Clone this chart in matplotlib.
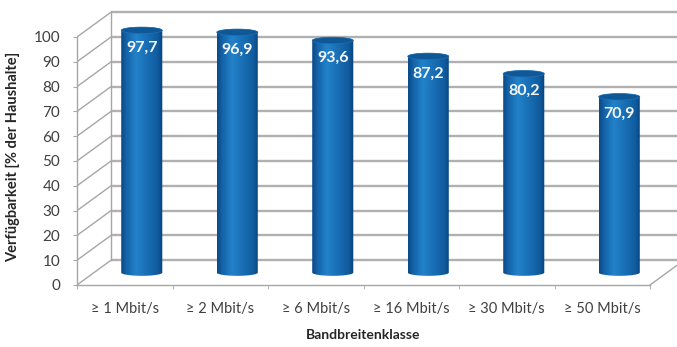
import numpy as np
import matplotlib
matplotlib.use('Agg')
import matplotlib.pyplot as plt
from matplotlib.path import Path
from matplotlib.patches import PathPatch, Ellipse
from matplotlib.colors import LinearSegmentedColormap

plt.rcParams['font.family'] = ['Lato', 'DejaVu Sans']

categories = ['≥ 1 Mbit/s', '≥ 2 Mbit/s', '≥ 6 Mbit/s', '≥ 16 Mbit/s', '≥ 30 Mbit/s', '≥ 50 Mbit/s']
values = [97.7, 96.9, 93.6, 87.2, 80.2, 70.9]
yticks = list(range(0, 101, 10))

# pseudo 3D depth offset (data units)
dx = 0.356   # categories
dy = 10.0    # percent
bw = 0.43    # bar width
eh = 2.6     # ellipse height

W, H = 677, 347
fig = plt.figure(figsize=(W / 100, H / 100), dpi=100)
x0, x1 = 77, 650     # front floor edge px
y0, y100 = 285, 37   # front axis 0 / 100 px
pxx = (x1 - x0) / 6.0
pxy = (y0 - y100) / 100.0
xmax = 5.5 + dx + 0.1
ymax = 100 + dy + 2
ax = fig.add_axes([x0 / W, (H - y0) / H,
                   (xmax + 0.5) * pxx / W, ymax * pxy / H])
ax.set_xlim(-0.5, xmax)
ax.set_ylim(0, ymax)

gc = '#b0b0b0'
lc = '#a6a6a6'
# back wall grid + side wall diagonals
for v in yticks:
    ax.plot([-0.5 + dx, xmax], [v + dy, v + dy], color=gc, lw=1.7, zorder=1, solid_capstyle='butt')
    ax.plot([-0.5, -0.5 + dx], [v, v + dy], color=lc, lw=1.0, zorder=1)
ax.plot([-0.5 + dx, -0.5 + dx], [dy, 100 + dy], color=lc, lw=1.0, zorder=1)
ax.plot([5.5, 5.5 + dx], [0, dy], color=lc, lw=1.0, zorder=1)

for s in ['top', 'right']:
    ax.spines[s].set_visible(False)
ax.spines['left'].set_bounds(0, 100)
ax.spines['bottom'].set_bounds(-0.5, 5.5)
for s in ['left', 'bottom']:
    ax.spines[s].set_color(lc)
    ax.spines[s].set_linewidth(1.0)

ax.set_yticks(yticks)
ax.set_yticklabels([str(v) for v in yticks], fontsize=11, color='#404040')
ax.tick_params(axis='y', length=3, color=lc, pad=9)
ax.set_xticks(range(len(categories)))
ax.set_xticklabels(categories, fontsize=10.5, color='#404040')
ax.set_xticks([i + 0.5 for i in range(-1, 6)], minor=True)
ax.tick_params(axis='x', which='major', length=0, pad=12)
ax.tick_params(axis='x', which='minor', length=3, color=lc)

cmap = LinearSegmentedColormap.from_list('cyl', [
    (0.0, '#0a4a88'), (0.12, '#1463a8'), (0.35, '#2282c9'),
    (0.6, '#1a70b6'), (0.88, '#105b9e'), (1.0, '#08437c')])
grad = np.linspace(0, 1, 64).reshape(1, -1)

for i, v in enumerate(values):
    c = i + dx / 2
    base = dy / 2
    top = v + dy / 2
    t = np.linspace(np.pi, 2 * np.pi, 40)
    bot = np.column_stack([c + bw / 2 * np.cos(t), base + eh / 2 * np.sin(t)])
    t2 = np.linspace(0, np.pi, 40)
    tp = np.column_stack([c + bw / 2 * np.cos(t2), top + eh / 2 * np.sin(t2)])
    verts = np.vstack([bot, tp, bot[:1]])
    codes = [Path.MOVETO] + [Path.LINETO] * (len(verts) - 2) + [Path.CLOSEPOLY]
    patch = PathPatch(Path(verts, codes), facecolor='none', edgecolor='none', zorder=3)
    ax.add_patch(patch)
    im = ax.imshow(grad, cmap=cmap, aspect='auto', interpolation='bilinear',
                   extent=(c - bw / 2, c + bw / 2, base - eh, top + eh), zorder=3)
    im.set_clip_path(patch)
    ax.add_patch(Ellipse((c, top), bw, eh, facecolor='#0e5898', edgecolor='#1f6fb0',
                         lw=0.5, zorder=4))
    ax.text(c, top - 7, f'{v:.1f}'.replace('.', ','), ha='center', va='center',
            color='#f4f6f8', fontsize=11.5, fontweight='bold', zorder=5)

ax.set_xlim(-0.5, xmax)
ax.set_ylim(0, ymax)

fig.text(363 / W, 1 - 335 / H, 'Bandbreitenklasse', ha='center', va='center',
         fontsize=10, fontweight='bold', color='#262626')
fig.text(13 / W, 1 - 157 / H, 'Verfügbarkeit [% der Haushalte]', ha='center', va='center',
         rotation=90, fontsize=10.5, fontweight='bold', color='#262626')

fig.savefig('out.png', dpi=100)
